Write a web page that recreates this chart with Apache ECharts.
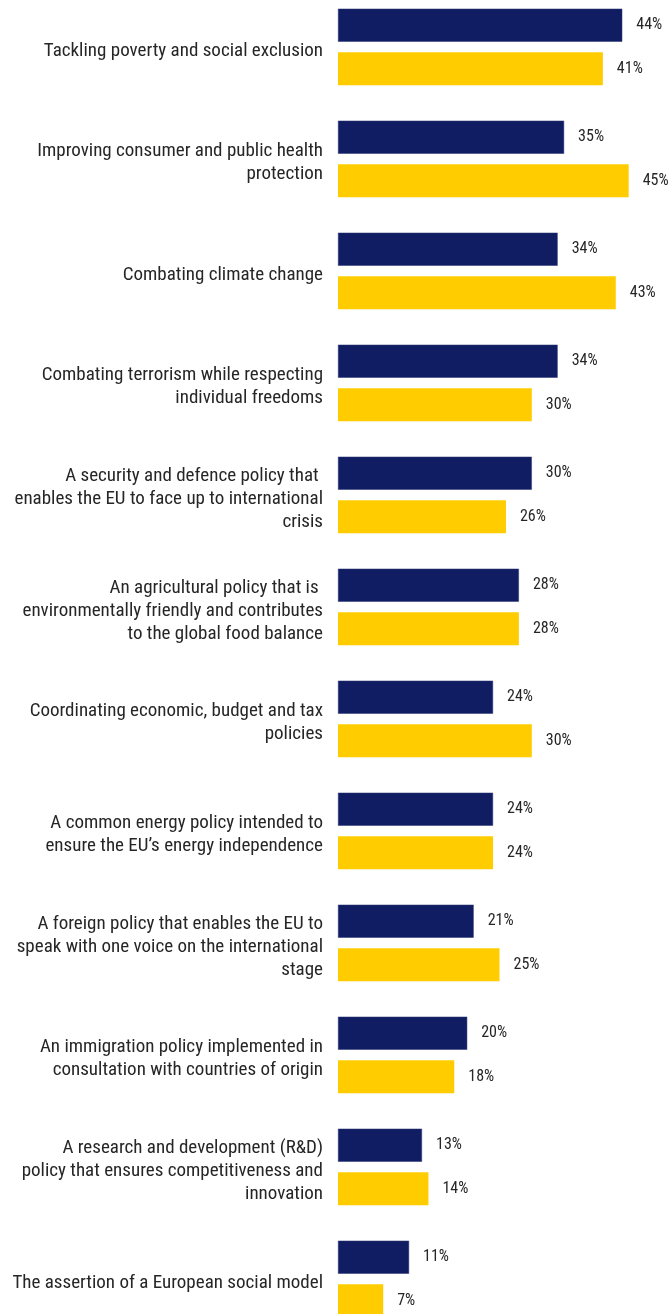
<!DOCTYPE html>
<html><head><meta charset="utf-8">
<script src="https://cdn.jsdelivr.net/npm/echarts@6/dist/echarts.min.js"></script>
<style>html,body{margin:0;padding:0;background:#fff}#c{width:670px;height:1314px}</style>
</head><body><div id="c"></div>
<script>
const categories = [
  "Tackling poverty and social exclusion",
  "Improving consumer and public health\nprotection",
  "Combating climate change",
  "Combating terrorism while respecting\nindividual freedoms",
  "A security and defence policy that \nenables the EU to face up to international\ncrisis",
  "An agricultural policy that is \nenvironmentally friendly and contributes\nto the global food balance",
  "Coordinating economic, budget and tax\npolicies",
  "A common energy policy intended to\nensure the EU\u2019s energy independence",
  "A foreign policy that enables the EU to\nspeak with one voice on the international\nstage",
  "An immigration policy implemented in\nconsultation with countries of origin",
  "A research and development (R&D)\npolicy that ensures competitiveness and\ninnovation",
  "The assertion of a European social model"
];
const seriesNavy = [44, 35, 34, 34, 30, 28, 24, 24, 21, 20, 13, 11];
const seriesYellow = [41, 45, 43, 30, 26, 28, 30, 24, 25, 18, 14, 7];

const FONT = '"Roboto Condensed", "DejaVu Sans Condensed", sans-serif';
const chart = echarts.init(document.getElementById('c'), null, {renderer: 'canvas'});
const lbl = {show: true, position: 'right', distance: 14, formatter: '{c}%', color: '#262626', fontSize: 16, fontFamily: FONT};
chart.setOption({
  animation: false,
  grid: [
    {left: 338, top: -9, width: 323, height: 1344, containLabel: false, outerBoundsMode: 'none'},
    {left: 338, top: -5, width: 323, height: 1344, containLabel: false, outerBoundsMode: 'none'}
  ],
  xAxis: [
    {type: 'value', min: 0, max: 50, show: false, gridIndex: 0},
    {type: 'value', min: 0, max: 50, show: false, gridIndex: 1}
  ],
  yAxis: [
    {type: 'category', data: categories, inverse: true, gridIndex: 0,
     axisLine: {show: false}, axisTick: {show: false}, axisLabel: {show: false}},
    {type: 'category', data: categories, inverse: true, gridIndex: 1,
     axisLine: {show: false}, axisTick: {show: false}, splitLine: {show: false},
     axisLabel: {margin: 15, color: '#262626', fontSize: 19, lineHeight: 23, fontFamily: FONT, align: 'right'}}
  ],
  series: [
    {type: 'bar', data: seriesNavy, barWidth: 33, barGap: '32%', itemStyle: {color: '#111d63', borderColor: '#2a3575', borderWidth: 0.5}, label: lbl},
    {type: 'bar', data: seriesYellow, barWidth: 33, itemStyle: {color: '#ffcc00'}, label: lbl}
  ]
});
</script></body></html>
